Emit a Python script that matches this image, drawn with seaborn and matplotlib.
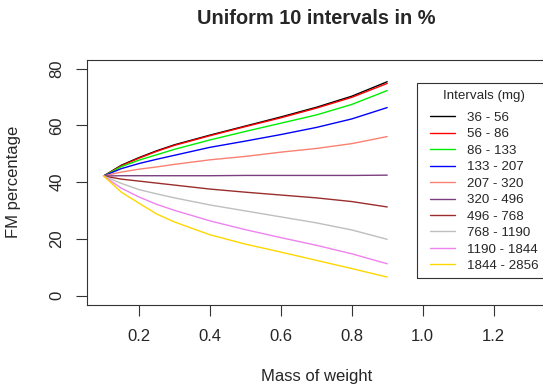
import matplotlib
matplotlib.use("Agg")
import pandas as pd
import matplotlib.pyplot as plt
from matplotlib.patches import Rectangle
import seaborn as sns

# values
mass = [0.1, 0.15, 0.2, 0.25, 0.3, 0.4, 0.5, 0.6, 0.7, 0.8, 0.9]

intervals = ["36 - 56", "56 - 86", "86 - 133", "133 - 207", "207 - 320",
             "320 - 496", "496 - 768", "768 - 1190", "1190 - 1844", "1844 - 2856"]
colors = ["black", "red", "#00ee00", "blue", "#fa8072",
          "#7b3f7f", "#9b2d2d", "#bebebe", "#ee82ee", "#ffd700"]

fm_36_56 = [42.2, 46.0, 48.7, 51.1, 53.2, 56.6, 59.8, 63.0, 66.4, 70.3, 75.4]
fm_56_86 = [42.2, 45.8, 48.5, 50.9, 53.0, 56.4, 59.6, 62.7, 66.1, 69.9, 74.8]
fm_86_133 = [42.2, 45.5, 47.8, 49.7, 51.6, 54.9, 57.9, 60.8, 63.7, 67.4, 72.3]
fm_133_207 = [42.2, 44.8, 46.6, 48.1, 49.5, 52.3, 54.5, 56.8, 59.3, 62.3, 66.3]
fm_207_320 = [42.2, 43.6, 44.6, 45.4, 46.3, 47.9, 49.1, 50.6, 51.9, 53.6, 56.1]
fm_320_496 = [42.2, 42.3, 42.3, 42.3, 42.3, 42.3, 42.4, 42.4, 42.4, 42.4, 42.5]
fm_496_768 = [42.2, 41.1, 40.4, 39.7, 39.0, 37.6, 36.5, 35.5, 34.5, 33.2, 31.3]
fm_768_1190 = [42.2, 39.6, 37.4, 35.9, 34.5, 32.0, 29.9, 27.8, 25.7, 23.2, 19.9]
fm_1190_1844 = [42.2, 37.9, 34.8, 32.2, 30.1, 26.4, 23.3, 20.5, 17.8, 14.8, 11.3]
fm_1844_2856 = [42.2, 36.5, 32.6, 28.8, 26.0, 21.5, 18.2, 15.4, 12.5, 9.6, 6.6]

series = [fm_36_56, fm_56_86, fm_86_133, fm_133_207, fm_207_320,
          fm_320_496, fm_496_768, fm_768_1190, fm_1190_1844, fm_1844_2856]

rows = []
for name, vals in zip(intervals, series):
    for m, v in zip(mass, vals):
        rows.append({"mass": m, "fm": v, "interval": name})
df = pd.DataFrame(rows)

sns.set_style("white")
plt.rcParams["font.family"] = ["Liberation Sans", "DejaVu Sans"]

fig = plt.figure(figsize=(5.43, 3.85), dpi=100)
ax = fig.add_axes([86.6 / 543, 1 - 304.9 / 385, (546 - 86.6) / 543, (304.9 - 59.6) / 385])

sns.lineplot(data=df, x="mass", y="fm", hue="interval", hue_order=intervals,
             palette=colors, linewidth=1.0, ax=ax, legend=True)

ax.set_xlim(0.052, 1.348)
ax.set_ylim(-3.2, 83.2)
ax.set_xticks([0.2, 0.4, 0.6, 0.8, 1.0, 1.2])
ax.set_yticks([0, 20, 40, 60, 80])
ax.set_xticklabels(["0.2", "0.4", "0.6", "0.8", "1.0", "1.2"])
ax.set_yticklabels(["0", "20", "40", "60", "80"], rotation=90, va="center")

for s in ax.spines.values():
    s.set_visible(True)
    s.set_color("#333333")
    s.set_linewidth(0.8)
ax.tick_params(axis="both", direction="out", length=8, width=0.8, color="#333333",
               labelsize=12, left=True, bottom=True)
ax.tick_params(axis="x", pad=9)
ax.tick_params(axis="y", pad=8)

ax.set_xlabel("Mass of weight", fontsize=12)
ax.set_ylabel("FM percentage", fontsize=12)
ax.xaxis.label.set_va("center")
ax.yaxis.label.set_va("center")
ax.xaxis.set_label_coords(0.5, -0.292)
ax.yaxis.set_label_coords(-0.160, 0.5)

fig.text(316.5 / 543, 1 - 18 / 385, "Uniform 10 intervals in %", ha="center", va="center",
         fontsize=14.4, fontweight="bold")

# legend: rebuild from seaborn's handles, frame drawn separately
old = ax.get_legend()
handles = old.legend_handles
labels = [t.get_text() for t in old.texts]
old.remove()
leg = ax.legend(handles, labels, title="Intervals (mg)", loc="upper left",
                bbox_to_anchor=(430 / 543, 1 - 90.5 / 385), bbox_transform=fig.transFigure,
                frameon=False, fontsize=9.6, title_fontsize=9.6, borderpad=0,
                borderaxespad=0, handlelength=1.9, handletextpad=0.9, labelspacing=0.31)
leg._legend_box.sep = 6.5  # a bit more room under the title, as in the reference
for h in leg.legend_handles:
    h.set_linewidth(1.0)

fig.patches.append(Rectangle((417.3 / 543, 1 - 278.3 / 385), (555 - 417.3) / 543,
                             (278.3 - 82.7) / 385, transform=fig.transFigure,
                             fill=False, edgecolor="#333333", linewidth=0.8))

fig.savefig("out.png", dpi=100, facecolor="white")
